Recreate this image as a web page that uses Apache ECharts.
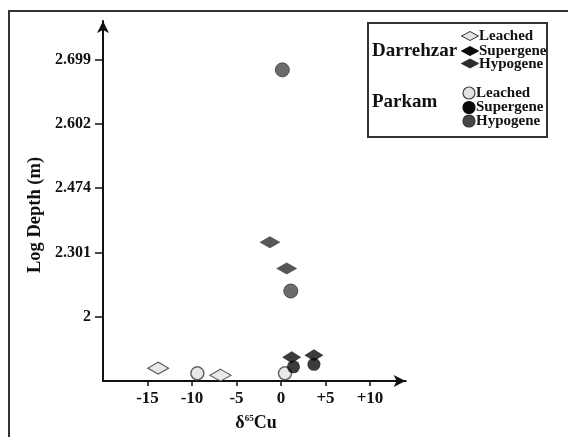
<!DOCTYPE html>
<html>
<head>
<meta charset="utf-8">
<script src="https://cdn.jsdelivr.net/npm/echarts@6/dist/echarts.min.js"></script>
<style>
html,body{margin:0;padding:0;background:#fff;}
#chart{width:568px;height:437px;}
</style>
</head>
<body>
<div id="chart"></div>
<script>
// delta65Cu (x) vs depth in metres (y); y ticks labelled with log10(depth)
var xTicks = [-15, -10, -5, 0, 5, 10];
var xTickLabels = ['-15', '-10', '-5', '0', '+5', '+10'];
var yTickDepths = [100, 200, 300, 400, 500];
var yTickLabels = ['2', '2.301', '2.474', '2.602', '2.699'];

var darrehzarLeached = [[-13.8, 20], [-6.8, 9]];
var darrehzarSupergene = [[1.2, 37], [3.7, 40]];
var darrehzarHypogene = [[-1.24, 216], [0.64, 175]];
var parkamLeached = [[-9.4, 12], [0.45, 12]];
var parkamSupergene = [[1.4, 22], [3.7, 26]];
var parkamHypogene = [[0.15, 484], [1.1, 140]];

var FONT = 'Liberation Serif';
var chart = echarts.init(document.getElementById('chart'));

function diamond(cx, cy, w, h, fill, stroke) {
  return {
    type: 'polygon',
    shape: { points: [[cx - w / 2, cy], [cx, cy - h / 2], [cx + w / 2, cy], [cx, cy + h / 2]] },
    style: { fill: fill, stroke: stroke || fill, lineWidth: 1 }
  };
}
function circ(cx, cy, r, fill, stroke) {
  return {
    type: 'circle',
    shape: { cx: cx, cy: cy, r: r },
    style: { fill: fill, stroke: stroke || fill, lineWidth: 1.2 }
  };
}
function txt(x, y, s, size, align) {
  return {
    type: 'text', x: x, y: y,
    style: { text: s, font: 'bold ' + size + 'px "' + FONT + '"', fill: '#111', align: align || 'left', verticalAlign: 'middle' }
  };
}

var option = {
  animation: false,
  backgroundColor: '#fff',
  grid: { left: 103, right: 162.4, top: 21, bottom: 56, containLabel: false },
  xAxis: {
    type: 'value', min: -20, max: 14, interval: 5,
    splitLine: { show: false },
    axisLine: { onZero: false, lineStyle: { color: '#111', width: 2 }, symbol: ['none', 'arrow'], symbolSize: [9, 12] },
    axisTick: { customValues: xTicks, length: 5, lineStyle: { color: '#111', width: 1.5 } },
    axisLabel: {
      customValues: xTicks, margin: 9,
      formatter: function (v) { var i = xTicks.indexOf(v); return i >= 0 ? xTickLabels[i] : ''; },
      fontFamily: FONT, fontWeight: 'bold', fontSize: 17, color: '#111'
    }
  },
  yAxis: {
    type: 'value', min: 0, max: 560, interval: 100,
    splitLine: { show: false },
    axisLine: { onZero: false, lineStyle: { color: '#111', width: 2 }, symbol: ['none', 'arrow'], symbolSize: [9, 12] },
    axisTick: { customValues: yTickDepths, length: 8, lineStyle: { color: '#111', width: 1.5 } },
    axisLabel: {
      customValues: yTickDepths, margin: 12,
      formatter: function (v) { var i = yTickDepths.indexOf(v); return i >= 0 ? yTickLabels[i] : ''; },
      fontFamily: FONT, fontWeight: 'bold', fontSize: 16, color: '#111'
    }
  },
  series: [
    { type: 'scatter', name: 'Darrehzar Leached', data: darrehzarLeached, symbol: 'diamond', symbolSize: [21, 12],
      itemStyle: { color: '#e4e4e4', borderColor: '#333', borderWidth: 1.2 } },
    { type: 'scatter', name: 'Parkam Leached', data: parkamLeached, symbol: 'circle', symbolSize: 13,
      itemStyle: { color: '#e2e2e2', borderColor: '#444', borderWidth: 1.5 } },
    { type: 'scatter', name: 'Darrehzar Hypogene', data: darrehzarHypogene, symbol: 'diamond', symbolSize: [21, 12],
      itemStyle: { color: '#2d2d2d' } },
    { type: 'scatter', name: 'Parkam Hypogene', data: parkamHypogene, symbol: 'circle', symbolSize: 14,
      itemStyle: { color: '#474747', borderColor: '#333', borderWidth: 1 } },
    { type: 'scatter', name: 'Parkam Supergene', data: parkamSupergene, symbol: 'circle', symbolSize: 13,
      itemStyle: { color: '#0a0a0a' } },
    { type: 'scatter', name: 'Darrehzar Supergene', data: darrehzarSupergene, symbol: 'diamond', symbolSize: [19, 12],
      itemStyle: { color: '#0a0a0a' } }
  ],
  graphic: [
    { type: 'rect', shape: { x: 9, y: 11, width: 600, height: 500 }, style: { fill: 'none', stroke: '#333', lineWidth: 2 }, silent: true },
    {
      type: 'text', x: 35, y: 215, rotation: Math.PI / 2,
      style: { text: 'Log Depth (m)', font: 'bold 18.5px "' + FONT + '"', fill: '#111', align: 'center', verticalAlign: 'middle' }
    },
    {
      type: 'text', x: 256, y: 423,
      style: {
        text: '{a|δ}{s|65}{a|Cu}', align: 'center', verticalAlign: 'middle',
        rich: {
          a: { fontFamily: FONT, fontWeight: 'bold', fontSize: 18, fill: '#111', color: '#111' },
          s: { fontFamily: FONT, fontWeight: 'bold', fontSize: 9, fill: '#111', color: '#111', verticalAlign: 'top', padding: [0, 0, 8, 0] }
        }
      }
    },
    { type: 'rect', shape: { x: 368, y: 23, width: 179, height: 114 }, style: { fill: '#fff', stroke: '#333', lineWidth: 2 } },
    txt(372, 51, 'Darrehzar', 19),
    txt(372, 102, 'Parkam', 19),
    diamond(470, 36, 17, 9, '#e4e4e4', '#333'),
    diamond(470, 51, 17, 9, '#0a0a0a'),
    diamond(470, 63.5, 17, 9, '#2d2d2d'),
    txt(479, 36, 'Leached', 15),
    txt(479, 51, 'Supergene', 15),
    txt(479, 64, 'Hypogene', 15),
    circ(469, 93, 6, '#e2e2e2', '#444'),
    circ(469, 107.5, 6, '#0a0a0a'),
    circ(469, 121, 6, '#474747', '#333'),
    txt(476, 93, 'Leached', 15),
    txt(476, 107.5, 'Supergene', 15),
    txt(476, 121, 'Hypogene', 15)
  ]
};
chart.setOption(option);
</script>
</body>
</html>
